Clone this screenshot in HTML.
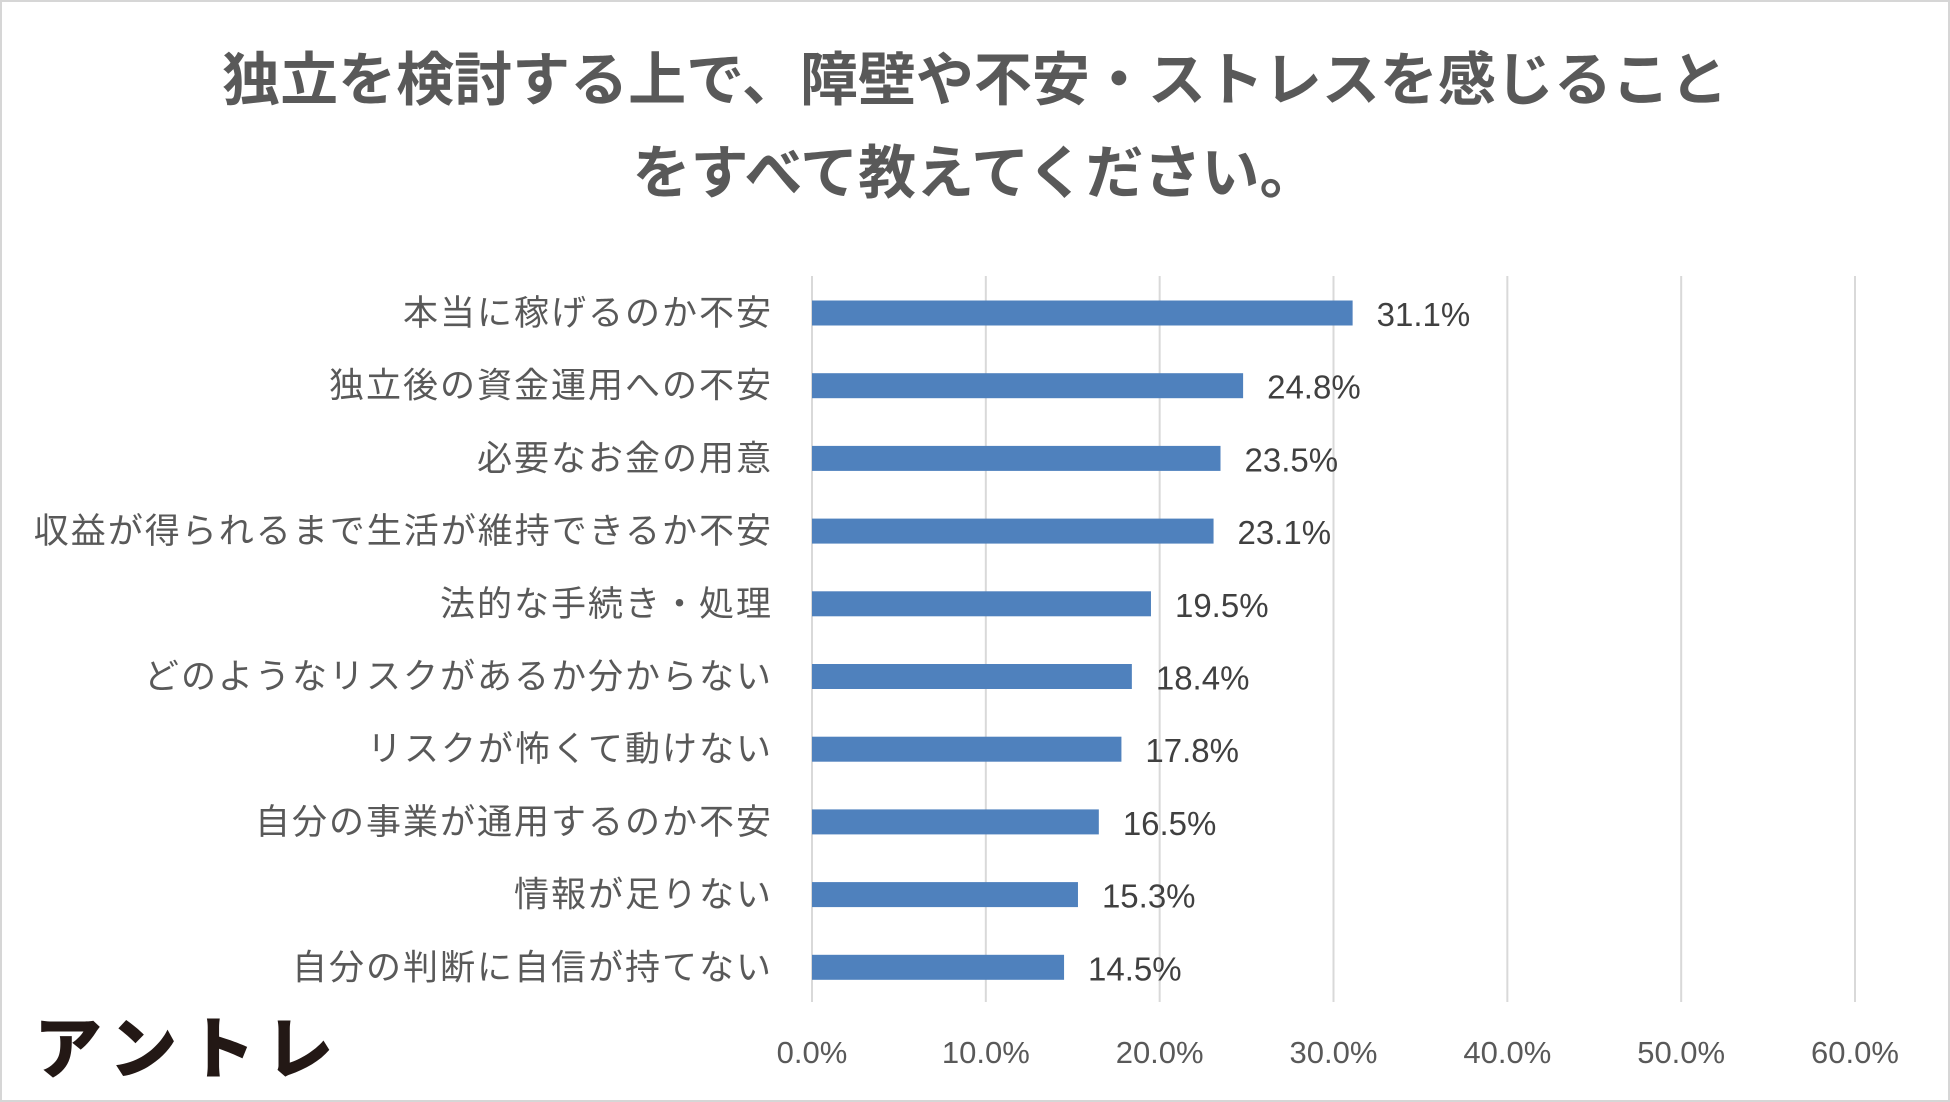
<!DOCTYPE html>
<html><head><meta charset="utf-8"><style>
html,body{margin:0;padding:0;background:#fff}
body{width:1950px;height:1102px;position:relative;overflow:hidden;font-family:"Liberation Sans","Noto Sans CJK JP",sans-serif}
#frame{position:absolute;left:0;top:0;width:1946px;height:1098px;border:2px solid #d6d6d6}
.title{position:absolute;left:0;width:1950px;text-align:center;font-weight:bold;color:#595959;font-size:58px;line-height:70px}
#logo{position:absolute;left:34px;top:1004px;font-size:68px;font-weight:900;color:#231815;letter-spacing:10px;line-height:80px;font-family:"Noto Sans CJK JP",sans-serif}
</style></head><body>
<div id="frame"></div>
<div class="title" style="top:46px">独立を検討する上で、障壁や不安・ストレスを感じること</div>
<div class="title" style="top:139px">をすべて教えてください。</div>
<div id="logo">アントレ</div>
<svg id="chart" width="1950" height="1102" style="position:absolute;left:0;top:0"></svg>
<script>
const categories=["本当に稼げるのか不安","独立後の資金運用への不安","必要なお金の用意","収益が得られるまで生活が維持できるか不安","法的な手続き・処理","どのようなリスクがあるか分からない","リスクが怖くて動けない","自分の事業が通用するのか不安","情報が足りない","自分の判断に自信が持てない"];
const values=[31.1,24.8,23.5,23.1,19.5,18.4,17.8,16.5,15.3,14.5];
const ticks=[0,10,20,30,40,50,60];
const NS="http://www.w3.org/2000/svg";
const svg=document.getElementById('chart');
const x0=812,x1=1855,xmax=60;
const xs=v=>x0+(x1-x0)*v/xmax;
const yTop=276,yBot=1002,firstC=313,step=72.7,bh=25;
const yc=i=>firstC+i*step;
function mk(t,a){const e=document.createElementNS(NS,t);for(const k in a)e.setAttribute(k,a[k]);svg.appendChild(e);return e;}
ticks.forEach(t=>{
  const g=mk('line',{x1:xs(t),x2:xs(t),y1:yTop,y2:yBot,stroke:'#d9d9d9','stroke-width':2});
  
  
  const l=mk('text',{x:xs(t),y:1063,'text-anchor':'middle','font-size':31,fill:'#595959','font-family':'Liberation Sans, sans-serif'});
  l.textContent=t.toFixed(1)+'%';
  
  
});
categories.forEach((c,i)=>{
  const r=mk('rect',{x:xs(0),y:yc(i)-bh/2,width:xs(values[i])-xs(0),height:bh,fill:'#4f81bd'});
  
  
  const v=mk('text',{x:xs(values[i])+24,y:yc(i)+13,'font-size':33,fill:'#404040','font-family':'Liberation Sans, sans-serif'});
  v.textContent=values[i].toFixed(1)+'%';
  
  
  const t=mk('text',{x:773,y:yc(i)+12,'text-anchor':'end','font-size':35,'letter-spacing':2,fill:'#595959','font-family':'Liberation Sans, Noto Sans CJK JP, sans-serif'});
  t.textContent=c;
  
  
});
</script>
</body></html>
